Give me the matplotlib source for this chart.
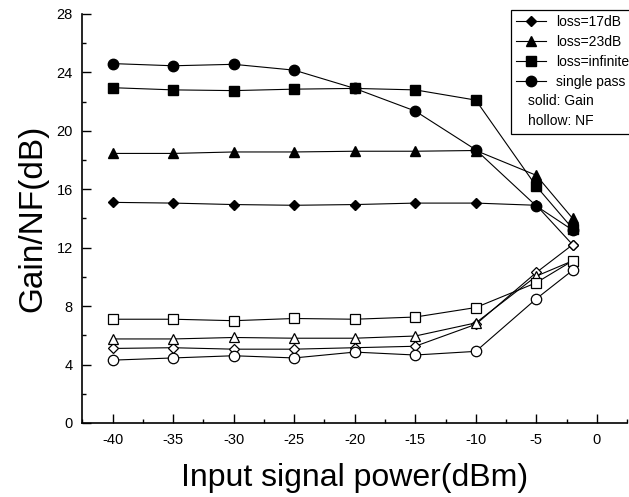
import matplotlib
matplotlib.use("Agg")
import matplotlib.pyplot as plt
from matplotlib.lines import Line2D

plt.rcParams['font.family'] = ['Liberation Sans', 'DejaVu Sans']
plt.rcParams['axes.unicode_minus'] = False

# input signal power (dBm)
puissance = [-40, -35, -30, -25, -20, -15, -10, -5, -2]

# gain (solid markers)
gain_17 = [15.1, 15.05, 14.95, 14.9, 14.95, 15.05, 15.05, 14.9, 12.2]
gain_23 = [18.45, 18.45, 18.55, 18.55, 18.6, 18.6, 18.65, 16.95, 14.0]
gain_inf = [22.95, 22.8, 22.75, 22.85, 22.9, 22.8, 22.1, 16.2, 13.3]
gain_sp = [24.6, 24.45, 24.55, 24.15, 22.9, 21.35, 18.7, 14.85, 13.2]

# noise figure (hollow markers)
nf_17 = [5.1, 5.15, 5.05, 5.05, 5.15, 5.25, 6.75, 10.3, 12.2]
nf_23 = [5.75, 5.75, 5.85, 5.8, 5.8, 5.95, 6.85, 10.05, 11.1]
nf_inf = [7.1, 7.1, 7.0, 7.15, 7.1, 7.25, 7.9, 9.6, 11.1]
nf_sp = [4.3, 4.45, 4.6, 4.45, 4.85, 4.65, 4.9, 8.5, 10.45]

etiquettes = ["loss=17dB", "loss=23dB", "loss=infinite", "single pass"]
marqueurs = ["D", "^", "s", "o"]
tailles = [6.5, 7.5, 6.5, 7.5]

fig = plt.figure(figsize=(6.29, 4.97), dpi=100)
ax = fig.add_axes([0.131, 0.149, 0.866, 0.823])

gains = [gain_17, gain_23, gain_inf, gain_sp]
nfs = [nf_17, nf_23, nf_inf, nf_sp]

for g, m, t in zip(gains, marqueurs, tailles):
    ms = t - 1 if m == "D" else t
    ax.plot(puissance, g, color='black', lw=0.8, marker=m, ms=ms,
            mfc='black', mec='black', zorder=2)

for n, m, t in zip(nfs, marqueurs, tailles):
    ms = t - 1 if m == "D" else t
    ax.plot(puissance, n, color='black', lw=0.8, marker=m, ms=ms,
            mfc='white', mec='black', mew=0.9, zorder=3)

ax.set_xlim(-42.5, 2.5)
ax.set_ylim(0, 28)
ax.set_xticks(range(-40, 1, 5))
ax.set_xticks([-42.5 + 5 * k for k in range(10)], minor=True)
ax.set_yticks(range(0, 29, 4))
ax.set_yticks(range(2, 28, 4), minor=True)

ax.spines['top'].set_visible(False)
ax.spines['right'].set_visible(False)
ax.spines['left'].set_linewidth(1.2)
ax.spines['bottom'].set_linewidth(1.2)
ax.tick_params(which='major', direction='in', length=6.5, width=1, labelsize=10.5, pad=7)
ax.tick_params(which='minor', direction='in', length=3.2, width=1)

ax.set_xlabel("Input signal power(dBm)", fontsize=23, labelpad=12)
ax.set_ylabel("Gain/NF(dB)", fontsize=24, labelpad=6)

poignees = []
for e, m, t in zip(etiquettes, marqueurs, tailles):
    ms = t - 1 if m == "D" else t
    poignees.append(Line2D([], [], color='black', lw=0.8, marker=m, ms=ms,
                           mfc='black', mec='black', label=e))
poignees.append(Line2D([], [], color='none', label=" "))
poignees.append(Line2D([], [], color='none', label=" "))

leg = fig.legend(handles=poignees, loc='upper left',
                 bbox_to_anchor=(511 / 629, 1 - 10 / 497),
                 borderaxespad=0, fontsize=10, fancybox=False, framealpha=1,
                 edgecolor='black', borderpad=0.35, handlelength=2.2,
                 handletextpad=0.7, labelspacing=0.43)
leg.get_frame().set_linewidth(0.9)

fig.text(528 / 629, 1 - 101 / 497, "solid: Gain", fontsize=10, va='center', zorder=10)
fig.text(528 / 629, 1 - 121 / 497, "hollow: NF", fontsize=10, va='center', zorder=10)

fig.savefig("out.png", dpi=100)
plt.close(fig)
